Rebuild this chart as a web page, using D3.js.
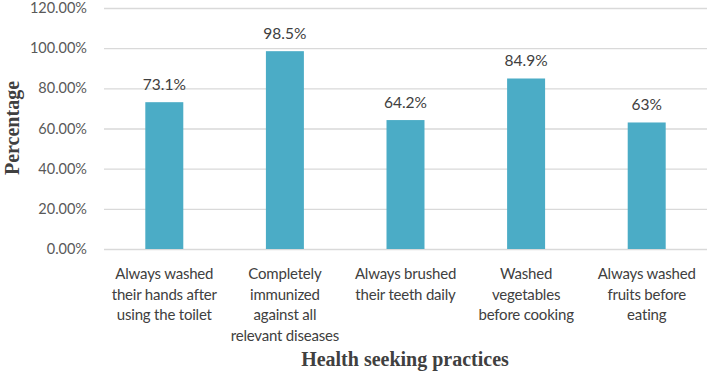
<!DOCTYPE html>
<html>
<head>
<meta charset="utf-8">
<script src="https://cdn.jsdelivr.net/npm/d3@7"></script>
<style>
  body { margin: 0; background: #fff; }
</style>
</head>
<body>
<svg id="chart"></svg>
<script>
(() => {

  const categories = [
    ['Always washed', 'their hands after', 'using the toilet'],
    ['Completely', 'immunized', 'against all', 'relevant diseases'],
    ['Always brushed', 'their teeth daily'],
    ['Washed', 'vegetables', 'before cooking'],
    ['Always washed', 'fruits before', 'eating']
  ];
  const values = [73.1, 98.5, 64.2, 84.9, 63];
  const valueLabels = ['73.1%', '98.5%', '64.2%', '84.9%', '63%'];
  const yTicks = [0, 20, 40, 60, 80, 100, 120];

  const svgWidth = 709;
  const svgHeight = 376;
  const margin = { top: 8, right: 2, bottom: 127, left: 104 };
  const labelFont = 'Lato, "Open Sans", sans-serif';

  const svg = d3.select('#chart')
    .attr('width', svgWidth)
    .attr('height', svgHeight);

  const x = d3.scaleBand()
    .domain(d3.range(values.length))
    .range([margin.left, svgWidth - margin.right])
    .paddingInner(0.685)
    .paddingOuter(0.3425);

  const y = d3.scaleLinear()
    .domain([0, 120])
    .range([svgHeight - margin.bottom, margin.top]);

  // gridlines + tick labels
  const yAxis = d3.axisLeft(y)
    .tickValues(yTicks)
    .tickSize(-(svgWidth - margin.right - margin.left))
    .tickPadding(17)
    .tickFormat(d => d.toFixed(2) + '%');

  svg.append('g')
    .attr('transform', `translate(${margin.left},0)`)
    .call(yAxis)
    .call(g => g.select('.domain').remove())
    .call(g => g.selectAll('.tick line').attr('stroke', '#d9d9d9').attr('stroke-width', 1.3))
    .call(g => g.selectAll('.tick text')
      .attr('fill', '#595959')
      .style('font-family', labelFont)
      .style('font-size', '14.5px'));

  // bars
  svg.append('g')
    .selectAll('rect')
    .data(values)
    .enter()
    .append('rect')
    .attr('x', (d, i) => x(i))
    .attr('y', d => y(d))
    .attr('width', x.bandwidth())
    .attr('height', d => y(0) - y(d))
    .attr('fill', '#4bacc6');

  // value labels
  svg.append('g')
    .selectAll('text')
    .data(values)
    .enter()
    .append('text')
    .attr('x', (d, i) => x(i) + x.bandwidth() / 2)
    .attr('y', d => y(d) - 12)
    .attr('text-anchor', 'middle')
    .attr('fill', '#404040')
    .style('font-family', labelFont)
    .style('font-size', '15.5px')
    .text((d, i) => valueLabels[i]);

  // category labels
  const cat = svg.append('g')
    .selectAll('text')
    .data(categories)
    .enter()
    .append('text')
    .attr('text-anchor', 'middle')
    .attr('fill', '#404040')
    .style('font-family', labelFont)
    .style('font-size', '15px')
    .style('letter-spacing', '-0.2px');

  cat.selectAll('tspan')
    .data((d, i) => d.map(line => ({ line, i })))
    .enter()
    .append('tspan')
    .attr('x', d => x(d.i) + x.bandwidth() / 2)
    .attr('y', (d, j) => 279 + j * 20.7)
    .text(d => d.line);

  // axis titles
  svg.append('text')
    .attr('x', 405)
    .attr('y', 366)
    .attr('text-anchor', 'middle')
    .attr('fill', '#404040')
    .style('font-family', '"Liberation Serif", "Times New Roman", serif')
    .style('font-weight', 'bold')
    .style('font-size', '20px')
    .text('Health seeking practices');

  svg.append('text')
    .attr('transform', 'translate(19,128) rotate(-90)')
    .attr('text-anchor', 'middle')
    .attr('fill', '#404040')
    .style('font-family', '"Liberation Serif", "Times New Roman", serif')
    .style('font-weight', 'bold')
    .style('font-size', '20px')
    .text('Percentage');

})();
</script>
</body>
</html>
